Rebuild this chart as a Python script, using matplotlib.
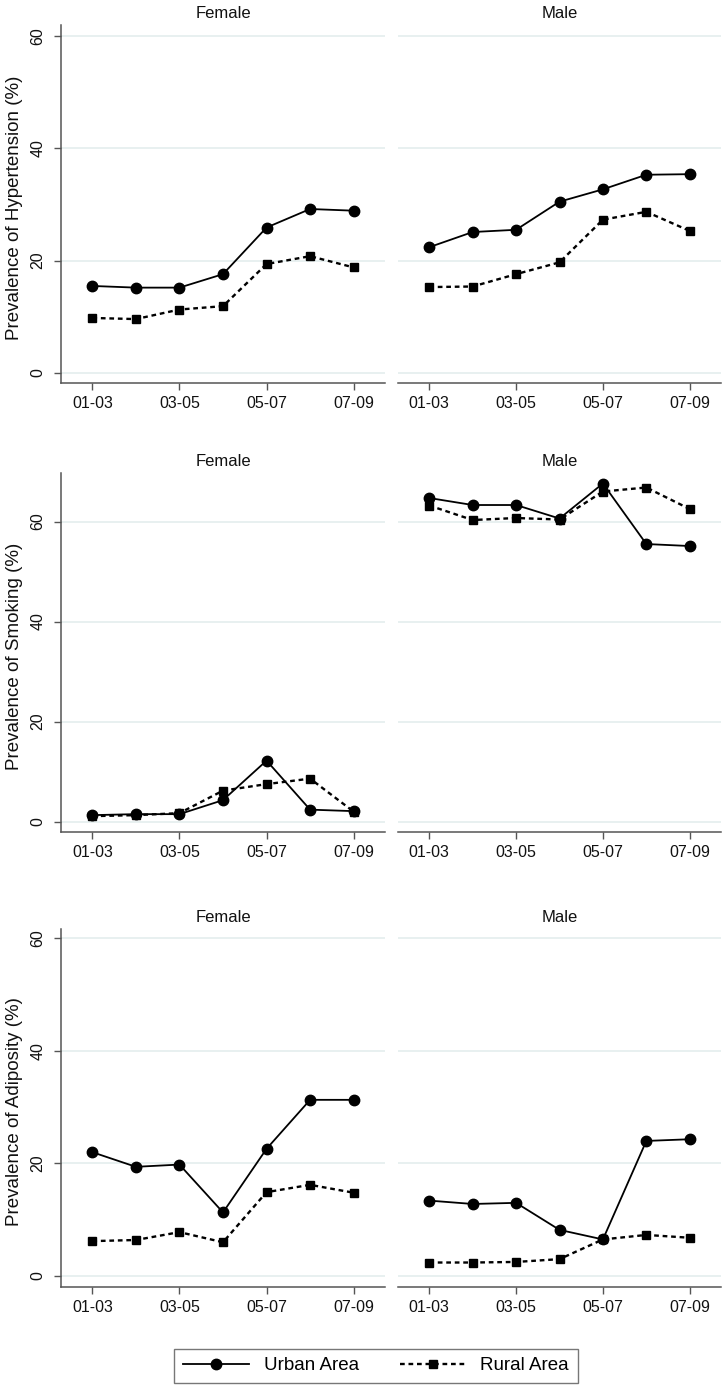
import matplotlib
matplotlib.use("Agg")
import matplotlib.pyplot as plt
from matplotlib.lines import Line2D

plt.rcParams['font.family'] = ['Liberation Sans', 'DejaVu Sans']

periods = ["01-03", "02-04", "03-05", "04-06", "05-07", "06-08", "07-09"]
tick_labels = ["01-03", "03-05", "05-07", "07-09"]
panel_titles = ["Female", "Male"]
row_labels = ["Prevalence of Hypertension (%)", "Prevalence of Smoking (%)",
              "Prevalence of Adiposity (%)"]
series_names = ["Urban Area", "Rural Area"]

# Hypertension
hyp_female_urban = [15.5, 15.2, 15.2, 17.6, 25.9, 29.2, 28.9]
hyp_female_rural = [9.8, 9.6, 11.3, 11.9, 19.4, 20.8, 18.8]
hyp_male_urban = [22.4, 25.1, 25.5, 30.5, 32.7, 35.3, 35.4]
hyp_male_rural = [15.3, 15.4, 17.6, 19.7, 27.3, 28.7, 25.3]
# Smoking
smk_female_urban = [1.3, 1.5, 1.5, 4.3, 12.2, 2.4, 2.1]
smk_female_rural = [1.1, 1.3, 1.7, 6.2, 7.5, 8.6, 2.0]
smk_male_urban = [64.7, 63.3, 63.3, 60.6, 67.6, 55.5, 55.1]
smk_male_rural = [63.2, 60.3, 60.7, 60.4, 66.0, 66.8, 62.5]
# Adiposity
adi_female_urban = [22.0, 19.4, 19.8, 11.3, 22.6, 31.3, 31.3]
adi_female_rural = [6.2, 6.4, 7.8, 6.0, 14.9, 16.2, 14.8]
adi_male_urban = [13.4, 12.8, 13.0, 8.2, 6.5, 24.0, 24.3]
adi_male_rural = [2.4, 2.4, 2.5, 3.0, 6.5, 7.3, 6.8]

data = [
    [(hyp_female_urban, hyp_female_rural), (hyp_male_urban, hyp_male_rural)],
    [(smk_female_urban, smk_female_rural), (smk_male_urban, smk_male_rural)],
    [(adi_female_urban, adi_female_rural), (adi_male_urban, adi_male_rural)],
]

W, H = 726, 1391
fig = plt.figure(figsize=(W / 100, H / 100), dpi=100)

col_px = [(61, 385), (398, 721)]
row_px = [(25, 383), (473, 832), (929, 1287)]
ylims = [(-1.78, 61.96), (-2.07, 69.7), (-1.95, 61.65)]

grid_col = "#e4eded"
spine_col = "#555555"
text_col = "#111111"
urban_style = dict(color="black", linestyle="-", linewidth=1.3,
                   marker="o", markersize=7.5)
rural_style = dict(color="black", linestyle=(0, (2.0, 1.6)), linewidth=1.7,
                   marker="s", markersize=5.5)

x = list(range(len(periods)))
for r in range(3):
    for c in range(2):
        x0, x1 = col_px[c]
        t0, b0 = row_px[r]
        ax = fig.add_axes([x0 / W, 1 - b0 / H, (x1 - x0) / W, (b0 - t0) / H])
        urban, rural = data[r][c]
        ax.plot(x, rural, **rural_style, zorder=3)
        ax.plot(x, urban, **urban_style, zorder=4)
        ax.set_xlim(-0.72, 6.72)
        ax.set_ylim(*ylims[r])
        ax.set_xticks([0, 2, 4, 6])
        ax.set_xticklabels(tick_labels)
        ax.set_yticks([0, 20, 40, 60])
        ax.yaxis.grid(True, color=grid_col, linewidth=1.2)
        ax.set_axisbelow(True)
        for s in ["top", "right"]:
            ax.spines[s].set_visible(False)
        ax.spines["bottom"].set_color(spine_col)
        ax.spines["bottom"].set_linewidth(1.1)
        ax.tick_params(axis="x", length=5, width=1, color=spine_col,
                       labelsize=11.5, pad=4.5, labelcolor=text_col)
        if c == 0:
            ax.spines["left"].set_color(spine_col)
            ax.spines["left"].set_linewidth(1.1)
            ax.tick_params(axis="y", length=5, width=1, color=spine_col,
                           labelsize=11.5, pad=6, labelcolor=text_col)
            for lab in ax.get_yticklabels():
                lab.set_rotation(90)
                lab.set_va("center")
            fig.text(15 / W, 1 - ((t0 + b0) / 2 + 4) / H, row_labels[r],
                     rotation=90, ha="center", va="center", fontsize=13.5,
                     color=text_col)
        else:
            ax.spines["left"].set_visible(False)
            ax.tick_params(axis="y", length=0, labelleft=False)
        ax.set_title(panel_titles[c], fontsize=12, pad=5, color=text_col)

handles = [Line2D([], [], **urban_style), Line2D([], [], **rural_style)]
leg = fig.legend(handles, series_names, loc="center",
                 bbox_to_anchor=(376 / W, 1 - 1365.5 / H), ncol=2,
                 fontsize=13.5, frameon=True, fancybox=False,
                 edgecolor="#555555", handlelength=3.5, columnspacing=2.2,
                 borderpad=0.45, handletextpad=0.8, borderaxespad=0)
leg.get_frame().set_linewidth(1.0)

fig.savefig("out.png", dpi=100)
